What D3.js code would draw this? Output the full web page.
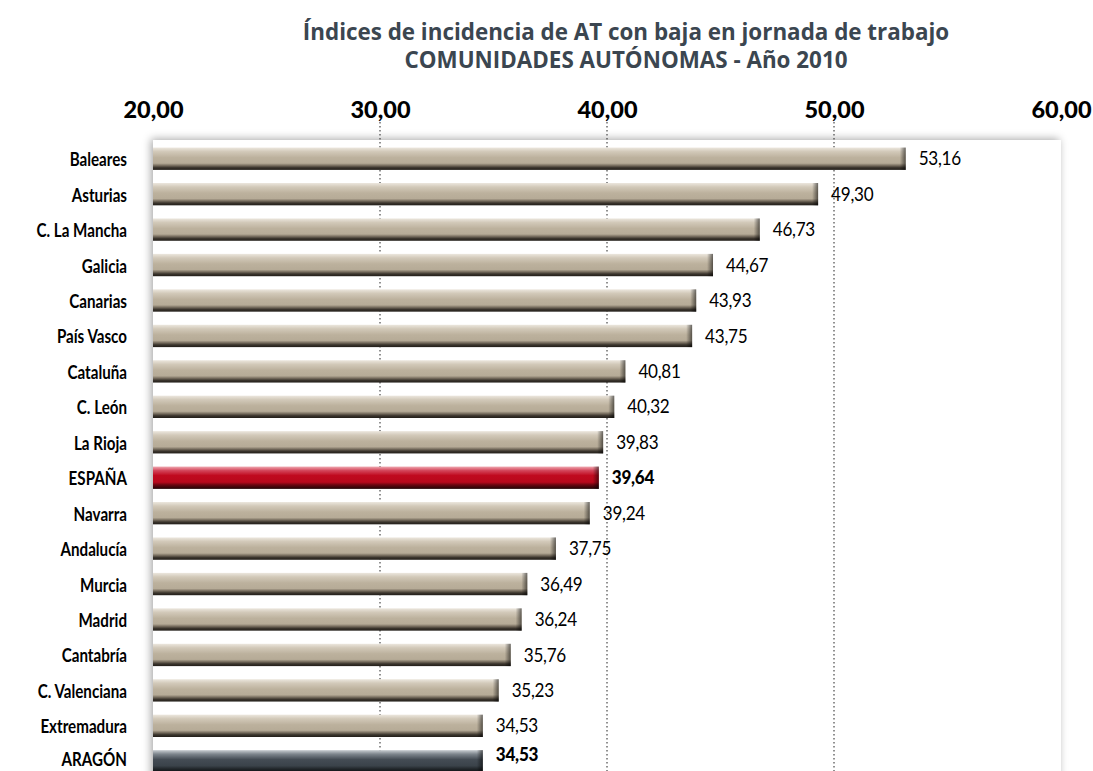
<!DOCTYPE html>
<html>
<head>
<meta charset="utf-8">
<script src="https://cdn.jsdelivr.net/npm/d3@7"></script>
<style>
  body { margin: 0; background: #fff; }
  svg { display: block; }
</style>
</head>
<body>
<div id="chart"></div>
<script>
// data
const categories = ["Baleares", "Asturias", "C. La Mancha", "Galicia", "Canarias", "País Vasco",
  "Cataluña", "C. León", "La Rioja", "ESPAÑA", "Navarra", "Andalucía", "Murcia", "Madrid",
  "Cantabría", "C. Valenciana", "Extremadura", "ARAGÓN"];
const values = [53.16, 49.30, 46.73, 44.67, 43.93, 43.75, 40.81, 40.32, 39.83, 39.64,
  39.24, 37.75, 36.49, 36.24, 35.76, 35.23, 34.53, 34.53];
const tickValues = [20, 30, 40, 50, 60];
const gridValues = [30, 40, 50];
const titleLines = ["Índices de incidencia de AT con baja en jornada de trabajo",
  "COMUNIDADES AUTÓNOMAS - Año 2010"];

const W = 1093, H = 771;
const titleFont = "'Open Sans', sans-serif";
const labelFont = "Lato, 'Open Sans', sans-serif";
const data = categories.map((c, i) => ({ name: c, value: values[i] }));
const fmt = v => d3.format(".2f")(v).replace(".", ",");
const highlight = d => d.name === "ESPAÑA" || d.name === "ARAGÓN";
const isLast = i => i === data.length - 1;

// the original uses a condensed face, so labels are squeezed horizontally
const catSqueeze = 0.82, valSqueeze = 0.9;

const svg = d3.select("#chart").append("svg")
  .attr("width", W).attr("height", H);

const x = d3.scaleLinear().domain([20, 60]).range([153, 1061]);
const y = d3.scaleBand().domain(categories).range([141, 779])
  .paddingInner(0.37).paddingOuter(0.185);

const defs = svg.append("defs");

// vertical gradients for the 3d look of the bars
function vgrad(id, stops) {
  const g = defs.append("linearGradient").attr("id", id)
    .attr("x1", 0).attr("y1", 0).attr("x2", 0).attr("y2", 1);
  stops.forEach(s => g.append("stop").attr("offset", s[0]).attr("stop-color", s[1]));
}
vgrad("beige", [[0, "#ece7de"], [0.18, "#d2c9b9"], [0.45, "#bcb19d"], [0.7, "#b6ab97"], [0.8, "#7a7061"], [0.9, "#3a342c"], [1, "#221e19"]]);
vgrad("red", [[0, "#f0a9b1"], [0.18, "#d3455a"], [0.4, "#c00a1f"], [0.7, "#b8081c"], [0.82, "#6a0510"], [1, "#200204"]]);
vgrad("slate", [[0, "#c9ced2"], [0.18, "#7d858c"], [0.42, "#444c54"], [0.7, "#3b434a"], [0.84, "#22272b"], [1, "#0d0f11"]]);

const cap = defs.append("linearGradient").attr("id", "cap")
  .attr("x1", 0).attr("y1", 0).attr("x2", 1).attr("y2", 0);
cap.append("stop").attr("offset", 0).attr("stop-color", "#000").attr("stop-opacity", 0);
cap.append("stop").attr("offset", 1).attr("stop-color", "#000").attr("stop-opacity", 0.55);

const shadow = defs.append("filter").attr("id", "shadow")
  .attr("x", "-5%").attr("y", "-5%").attr("width", "110%").attr("height", "110%");
shadow.append("feDropShadow").attr("dx", -2).attr("dy", -1)
  .attr("stdDeviation", 4).attr("flood-color", "#000").attr("flood-opacity", 0.35);

// title
svg.append("g").selectAll("text")
  .data(titleLines)
  .join("text")
    .attr("x", 626)
    .attr("y", (d, i) => 40 + i * 28)
    .attr("text-anchor", "middle")
    .style("font-family", titleFont)
    .style("font-weight", "700")
    .style("font-size", "22.4px")
    .style("fill", "#3b4650")
    .text(d => d);

// plot panel
svg.append("rect")
  .attr("x", x(20)).attr("y", 140)
  .attr("width", x(60) - x(20)).attr("height", H - 140 + 20)
  .attr("fill", "#fff")
  .attr("filter", "url(#shadow)");

// dotted gridlines
svg.append("g").selectAll("line")
  .data(gridValues)
  .join("line")
    .attr("x1", d => x(d)).attr("x2", d => x(d))
    .attr("y1", 122).attr("y2", H)
    .attr("stroke", "#222")
    .attr("stroke-width", 1)
    .attr("stroke-dasharray", "1.5,2.5");

// top axis
const axis = svg.append("g")
  .attr("transform", "translate(0,118)")
  .call(d3.axisTop(x).tickValues(tickValues).tickSize(0).tickPadding(0).tickFormat(fmt));
axis.select(".domain").remove();
axis.selectAll("text")
  .style("font-family", labelFont)
  .style("font-weight", "900")
  .style("font-size", "23.5px")
  .style("fill", "#000");

// category labels
svg.append("g")
  .attr("transform", `scale(${catSqueeze},1)`)
  .selectAll("text")
  .data(data)
  .join("text")
    .attr("x", 127 / catSqueeze)
    .attr("y", (d, i) => y(d.name) + y.bandwidth() / 2 + (isLast(i) ? -2 : 1))
    .attr("dy", "0.35em")
    .attr("text-anchor", "end")
    .style("font-family", labelFont)
    .style("font-weight", "700")
    .style("font-size", "18.5px")
    .style("fill", "#000")
    .text(d => d.name);

const fillFor = d => d.name === "ESPAÑA" ? "url(#red)" : d.name === "ARAGÓN" ? "url(#slate)" : "url(#beige)";

// bars
const bars = svg.append("g");
bars.selectAll("rect.bar")
  .data(data)
  .join("rect")
    .attr("class", "bar")
    .attr("x", x(20))
    .attr("y", d => y(d.name))
    .attr("width", d => x(d.value) - x(20))
    .attr("height", y.bandwidth())
    .attr("fill", fillFor);

// darker right end of each bar
bars.selectAll("rect.cap")
  .data(data)
  .join("rect")
    .attr("class", "cap")
    .attr("x", d => x(d.value) - 6)
    .attr("y", d => y(d.name))
    .attr("width", 6)
    .attr("height", y.bandwidth())
    .attr("fill", "url(#cap)");

// value labels (the last one sits a little higher so it stays inside the page)
svg.append("g")
  .attr("transform", `scale(${valSqueeze},1)`)
  .selectAll("text")
  .data(data)
  .join("text")
    .attr("x", d => (x(d.value) + 13) / valSqueeze)
    .attr("y", (d, i) => y(d.name) + y.bandwidth() / 2 + (isLast(i) ? -7 : 0))
    .attr("dy", "0.35em")
    .style("font-family", labelFont)
    .style("font-weight", d => highlight(d) ? "900" : "400")
    .style("font-size", "19px")
    .style("letter-spacing", "-0.3px")
    .style("fill", "#000")
    .text(d => fmt(d.value));
</script>
</body>
</html>
